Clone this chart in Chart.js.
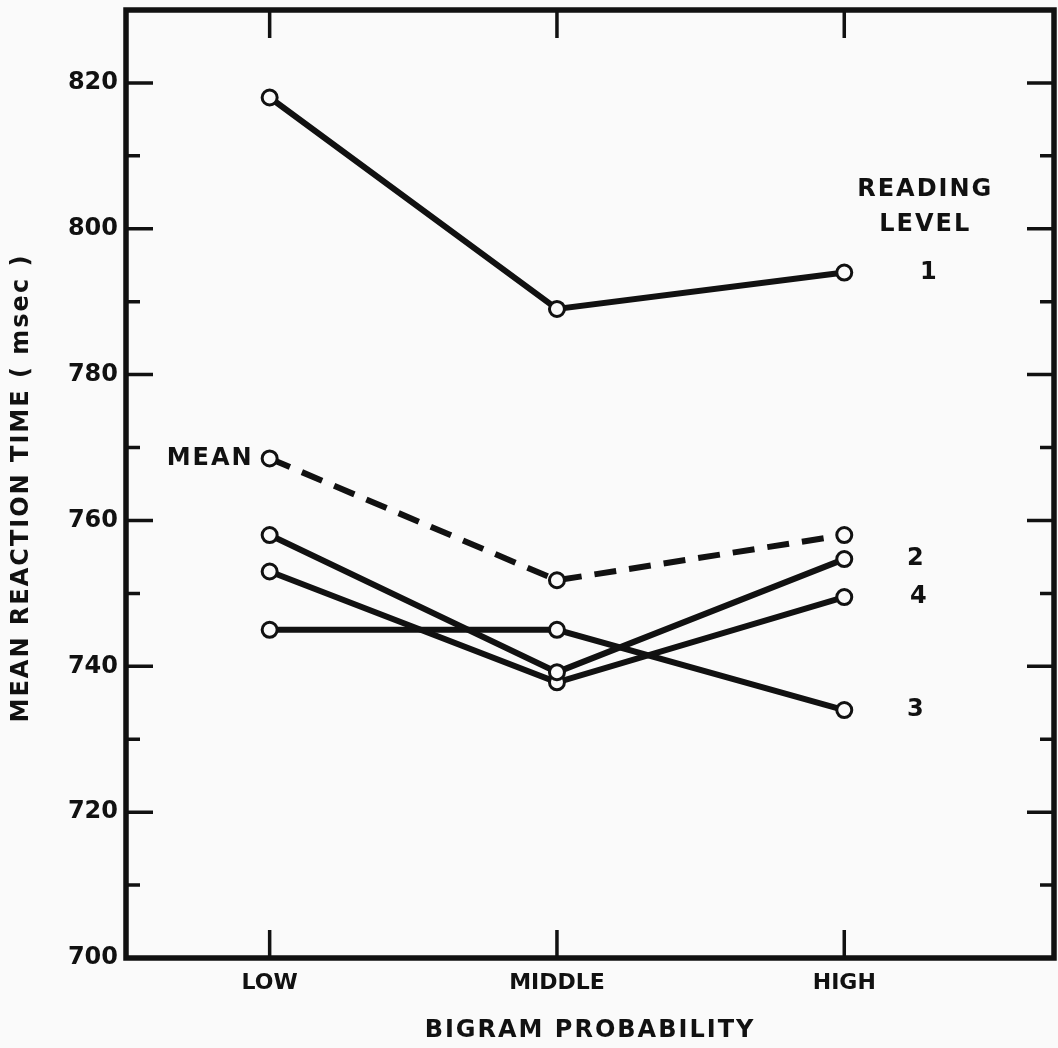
<!DOCTYPE html>
<html>
<head>
<meta charset="utf-8">
<script src="https://cdn.jsdelivr.net/npm/chart.js@4"></script>
<style>
html,body{margin:0;padding:0;background:#fafafa;}
#wrap{width:1058px;height:1048px;}
</style>
</head>
<body>
<div id="wrap"><canvas id="c" width="1058" height="1048"></canvas></div>
<script>
// ---- data ----
const categories = ['LOW', 'MIDDLE', 'HIGH'];
const categoryPositions = [1, 2, 3];
const level1 = [818, 789, 794];
const level2 = [758, 739.2, 754.7];
const level3 = [745, 745, 734];
const level4 = [753, 737.8, 749.5];
const meanValues = [768.5, 751.8, 758];
const yTickValues = [700, 710, 720, 730, 740, 750, 760, 770, 780, 790, 800, 810, 820];
const yLabelValues = [700, 720, 740, 760, 780, 800, 820];
const levelLabels = ['1', '2', '3', '4'];
const xTitle = 'BIGRAM PROBABILITY';
const yTitle = 'MEAN REACTION TIME ( msec )';

const FONT = '"DejaVu Sans", sans-serif';
const INK = '#111';

function pts(vals){ return vals.map((v,i)=>({x:categoryPositions[i], y:v})); }
function ds(vals, dashed){
  return {
    data: pts(vals),
    borderColor: INK,
    borderWidth: 6,
    borderDash: dashed ? [22, 13] : [],
    pointRadius: 7.5,
    pointBorderWidth: 3,
    pointBackgroundColor: '#fafafa',
    pointBorderColor: INK,
    tension: 0,
    fill: false
  };
}
function noPad(scale){
  scale.paddingTop = 0; scale.paddingBottom = 0;
  scale.paddingLeft = 0; scale.paddingRight = 0;
}

const decor = {
  id: 'decor',
  afterDatasetsDraw(chart){
    const ctx = chart.ctx;
    const xs = chart.scales.x, ys = chart.scales.y;
    const a = chart.chartArea;
    ctx.save();
    ctx.strokeStyle = INK;
    ctx.lineCap = 'butt';
    // ticks
    ctx.lineWidth = 3.5;
    yTickValues.forEach(v=>{
      if (v === 700) return;
      const y = ys.getPixelForValue(v);
      const len = (v % 20 === 0) ? 27 : 14;
      ctx.beginPath();
      ctx.moveTo(a.left, y); ctx.lineTo(a.left + len, y);
      ctx.moveTo(a.right, y); ctx.lineTo(a.right - len, y);
      ctx.stroke();
    });
    categoryPositions.forEach(p=>{
      const x = xs.getPixelForValue(p);
      ctx.beginPath();
      ctx.moveTo(x, a.top); ctx.lineTo(x, a.top + 28);
      ctx.moveTo(x, a.bottom); ctx.lineTo(x, a.bottom - 28);
      ctx.stroke();
    });
    // frame
    ctx.lineWidth = 5.5;
    ctx.strokeRect(a.left, a.top, a.right - a.left, a.bottom - a.top);
    // annotations
    ctx.fillStyle = INK;
    ctx.font = 'bold 24px ' + FONT;
    ctx.letterSpacing = '2px';
    ctx.textAlign = 'center';
    ctx.textBaseline = 'middle';
    const hx = xs.getPixelForValue(3);
    ctx.fillText('READING', hx + 81, ys.getPixelForValue(805.3));
    ctx.fillText('LEVEL', hx + 81, ys.getPixelForValue(800.5));
    ctx.fillText(levelLabels[0], hx + 85, ys.getPixelForValue(level1[2]));
    ctx.fillText(levelLabels[1], hx + 72, ys.getPixelForValue(level2[2]));
    ctx.fillText(levelLabels[3], hx + 75, ys.getPixelForValue(level4[2]));
    ctx.fillText(levelLabels[2], hx + 72, ys.getPixelForValue(level3[2]));
    ctx.textAlign = 'right';
    ctx.fillText('MEAN', xs.getPixelForValue(1) - 16, ys.getPixelForValue(meanValues[0]));
    // axis titles
    ctx.textAlign = 'center';
    ctx.fillText(xTitle, (a.left + a.right) / 2, 1031);
    ctx.translate(22, (a.top + a.bottom) / 2 + 4);
    ctx.rotate(-Math.PI / 2);
    ctx.fillText(yTitle, 0, 0);
    ctx.restore();
  }
};

new Chart(document.getElementById('c'), {
  type: 'line',
  data: {
    datasets: [ds(level1), ds(meanValues, true), ds(level2), ds(level4), ds(level3)]
  },
  options: {
    responsive: false,
    animation: false,
    layout: { autoPadding: false, padding: { left: 0, right: 4, top: 10, bottom: 0 } },
    plugins: { legend: { display: false }, tooltip: { enabled: false } },
    scales: {
      x: {
        type: 'linear',
        min: 0.5, max: 3.73,
        grid: { display: false, drawTicks: false },
        border: { display: false },
        afterBuildTicks(scale){ scale.ticks = categoryPositions.map(v=>({value:v})); },
        afterFit(scale){ scale.height = 90; noPad(scale); },
        ticks: {
          color: INK,
          font: { family: FONT, size: 22, weight: 'bold' },
          padding: 12,
          maxRotation: 0,
          callback: (v)=> { const i = categoryPositions.indexOf(v); return i >= 0 ? categories[i] : ''; }
        }
      },
      y: {
        min: 700, max: 830,
        grid: { display: false, drawTicks: false },
        border: { display: false },
        afterBuildTicks(scale){ scale.ticks = yTickValues.map(v=>({value:v})); },
        afterFit(scale){ scale.width = 126; noPad(scale); },
        ticks: {
          color: INK,
          font: { family: FONT, size: 24, weight: 'bold' },
          padding: 8,
          callback: (v)=> yLabelValues.includes(v) ? String(v) : ''
        }
      }
    }
  },
  plugins: [decor]
});
</script>
</body>
</html>
